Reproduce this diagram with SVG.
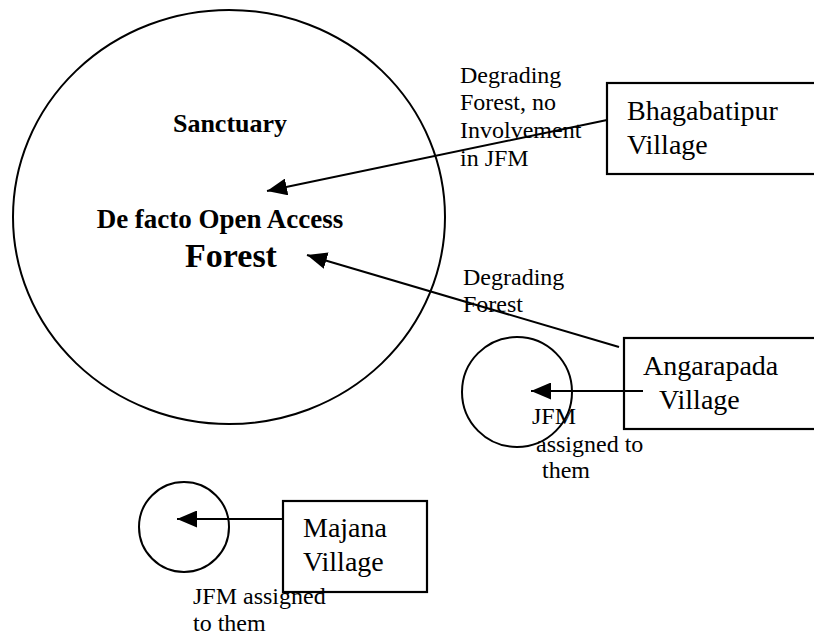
<svg xmlns="http://www.w3.org/2000/svg" width="814" height="637" viewBox="0 0 814 637">
<defs>
<marker id="ah" markerUnits="userSpaceOnUse" markerWidth="20" markerHeight="17" refX="20" refY="8.5" orient="auto" viewBox="0 0 20 17">
<path d="M0,0 L20,8.5 L0,17 z" fill="#000"/>
</marker>
<style>
.shape{fill:none;stroke:#000;stroke-width:2}
.box{fill:#fff;stroke:#000;stroke-width:2.2}
.conn{fill:none;stroke:#000;stroke-width:2;marker-end:url(#ah)}
</style>
</defs>
<rect width="814" height="637" fill="#fff"/>
<g id="bhagabatipur">
<rect class="box" x="607" y="83" width="230" height="91"/>
<text x="627" y="120" font-family="Liberation Serif" font-size="28">Bhagabatipur</text>
<text x="627" y="154" font-family="Liberation Serif" font-size="28">Village</text>
</g>
<g id="angarapada">
<rect class="box" x="624" y="338" width="230" height="91"/>
<text x="643" y="375" font-family="Liberation Serif" font-size="28">Angarapada</text>
<text x="659" y="409" font-family="Liberation Serif" font-size="28">Village</text>
</g>
<g id="majana">
<rect class="box" x="283" y="501" width="144" height="91"/>
<text x="303" y="537" font-family="Liberation Serif" font-size="28">Majana</text>
<text x="303" y="571" font-family="Liberation Serif" font-size="28">Village</text>
</g>
<g id="labels">
<text x="460" y="83" font-family="Liberation Serif" font-size="24">Degrading</text>
<text x="460" y="110" font-family="Liberation Serif" font-size="24">Forest, no</text>
<text x="460" y="138" font-family="Liberation Serif" font-size="24">Involvement</text>
<text x="460" y="166" font-family="Liberation Serif" font-size="24">in JFM</text>
<text x="463" y="285" font-family="Liberation Serif" font-size="24">Degrading</text>
<text x="463" y="312" font-family="Liberation Serif" font-size="24">Forest</text>
<text x="532" y="424" font-family="Liberation Serif" font-size="24">JFM</text>
<text x="536" y="452" font-family="Liberation Serif" font-size="24">assigned to</text>
<text x="542" y="478" font-family="Liberation Serif" font-size="24">them</text>
<text x="193" y="604" font-family="Liberation Serif" font-size="24">JFM assigned</text>
<text x="193" y="631" font-family="Liberation Serif" font-size="24">to them</text>
</g>
<g id="sanctuary">
<ellipse class="shape" cx="229" cy="217" rx="216" ry="207"/>
<text x="230" y="132" font-family="Liberation Serif" font-weight="bold" font-size="26" text-anchor="middle">Sanctuary</text>
<text x="220" y="228" font-family="Liberation Serif" font-weight="bold" font-size="27" text-anchor="middle">De facto Open Access</text>
<text x="231" y="267" font-family="Liberation Serif" font-weight="bold" font-size="34" text-anchor="middle">Forest</text>
</g>
<g id="angarapada-jfm">
<circle class="shape" cx="517" cy="392" r="55"/>
</g>
<g id="majana-jfm">
<circle class="shape" cx="184" cy="527" r="45"/>
</g>
<g id="connectors">
<line class="conn" x1="607" y1="120" x2="267" y2="191"/>
<line class="conn" x1="619" y1="347" x2="307" y2="255"/>
<line class="conn" x1="643" y1="391" x2="531" y2="391"/>
<line class="conn" x1="283" y1="519" x2="177" y2="519"/>
</g>
</svg>
